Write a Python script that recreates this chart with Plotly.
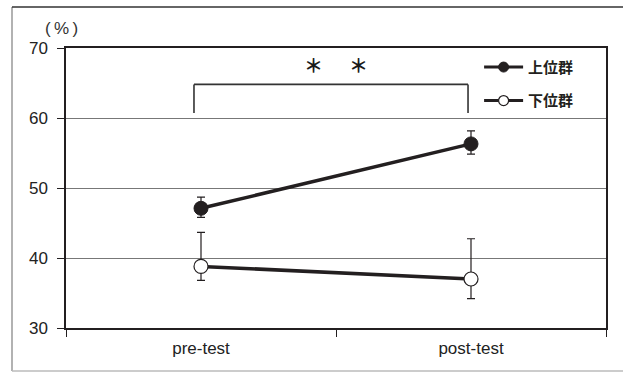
import plotly.graph_objects as go

categories = ["pre-test", "post-test"]
upper_mean = [47.1, 56.3]
upper_plus = [1.6, 1.85]
upper_minus = [1.3, 1.45]
lower_mean = [38.8, 37.0]
lower_plus = [4.85, 5.75]
lower_minus = [2.0, 2.8]
series_names = ["上位群", "下位群"]
y_ticks = [30, 40, 50, 60, 70]

INK = "#231f20"
FONT = "Liberation Sans, Arial, sans-serif"
CJK = "Noto Sans CJK JP, sans-serif"

fig = go.Figure()
fig.add_trace(go.Scatter(
    x=categories, y=upper_mean, name=series_names[0], showlegend=False,
    mode="lines+markers",
    line=dict(color=INK, width=3.5),
    marker=dict(size=14, color=INK, line=dict(color=INK, width=1)),
    error_y=dict(type="data", symmetric=False, array=upper_plus, arrayminus=upper_minus,
                 color=INK, thickness=1.2, width=4),
))
fig.add_trace(go.Scatter(
    x=categories, y=lower_mean, name=series_names[1], showlegend=False,
    mode="lines+markers",
    line=dict(color=INK, width=3.5),
    marker=dict(size=14, color="white", line=dict(color=INK, width=1.2)),
    error_y=dict(type="data", symmetric=False, array=lower_plus, arrayminus=lower_minus,
                 color=INK, thickness=1.2, width=4),
))
# legend entries (smaller legend symbols as in the reference)
fig.add_trace(go.Scatter(
    x=[None], y=[None], name=series_names[0], legendgroup="a", mode="lines+markers",
    line=dict(color=INK, width=3),
    marker=dict(size=10, color=INK, line=dict(color=INK, width=1)),
))
fig.add_trace(go.Scatter(
    x=[None], y=[None], name=series_names[1], legendgroup="b", mode="lines+markers",
    line=dict(color=INK, width=3),
    marker=dict(size=10, color="white", line=dict(color=INK, width=1.2)),
))

# significance bracket
bx0, bx1, by0, by1 = -0.026, 0.989, 60.7, 64.8
for (x0, y0, x1, y1) in [(bx0, by0, bx0, by1), (bx0, by1, bx1, by1), (bx1, by1, bx1, by0)]:
    fig.add_shape(type="line", xref="x", yref="y", x0=x0, y0=y0, x1=x1, y1=y1,
                  line=dict(color="#333333", width=1.6))
for ax in [0.415, 0.585]:
    fig.add_annotation(x=ax, y=67.6, xref="x", yref="y", text="＊", showarrow=False,
                       xanchor="center", yanchor="middle",
                       font=dict(family=CJK, size=19, color="#1a1a1a", weight="bold"))

# unit label
fig.add_annotation(x=-0.009, y=1.07, xref="paper", yref="paper", text="(\u2009%\u2009)",
                   showarrow=False, xanchor="center", yanchor="middle",
                   font=dict(family=FONT, size=17, color="#333333"))

# outer frame (left, top, bottom)
fig.add_shape(type="path", xref="paper", yref="paper",
              path="M -0.1,-0.1536 L -0.1,1.146", line=dict(color="#999999", width=1.5))
fig.add_shape(type="path", xref="paper", yref="paper",
              path="M -0.1,1.146 L 1.05,1.146", line=dict(color="#333333", width=1.5))
fig.add_shape(type="path", xref="paper", yref="paper",
              path="M -0.1,-0.1536 L 1.05,-0.1536", line=dict(color="#bbbbbb", width=1.5))

fig.update_layout(
    width=623, height=372,
    margin=dict(l=66, r=17, t=48, b=44),
    plot_bgcolor="white", paper_bgcolor="white",
    showlegend=True,
    legend=dict(x=0.765, y=0.99, xanchor="left", yanchor="top", itemwidth=39,
                bgcolor="rgba(0,0,0,0)", tracegroupgap=11,
                font=dict(family=CJK, size=15, color=INK, weight="bold")),
    xaxis=dict(type="category", range=[-0.5, 1.5], tickson="boundaries",
               ticks="outside", ticklen=7, tickcolor=INK, showline=True, linecolor=INK,
               linewidth=1.5, mirror=True, showgrid=False, ticklabelstandoff=4,
               tickfont=dict(family=FONT, size=17, color="#222222")),
    yaxis=dict(range=[30, 70], tickvals=y_ticks, ticks="outside", ticklen=7, tickcolor=INK,
               showline=True, linecolor=INK, linewidth=1.5, mirror=True,
               showgrid=True, gridcolor="#777777", gridwidth=1, zeroline=False,
               ticklabelstandoff=6,
               tickfont=dict(family=FONT, size=17, color="#222222")),
)

fig.write_html("out.html", config={"displayModeBar": False},
               post_script="document.body.style.margin='0';document.body.style.overflow='hidden';")
